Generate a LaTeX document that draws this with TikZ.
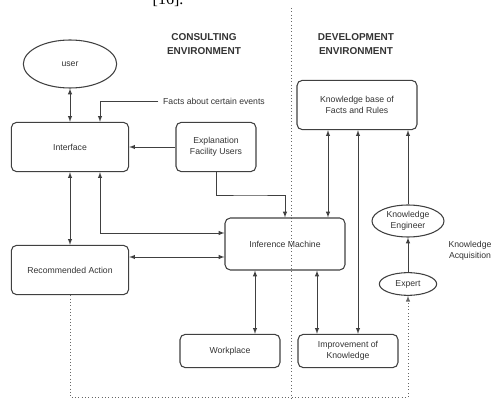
\documentclass[tikz,border=0pt]{standalone}
\usepackage{fontspec}
\setmainfont{Liberation Sans}
\newfontfamily\reffont{Liberation Serif}
\usepackage{tikz}
\usetikzlibrary{shapes.geometric}

\tikzset{
    box/.style={draw=black!75,line width=0.8pt,rounded corners=4pt,align=center,font=\fontsize{6.5}{8}\selectfont,text=black!80},
    oval/.style={draw=black!75,line width=0.8pt,ellipse,inner sep=0pt,align=center,font=\fontsize{6.5}{8}\selectfont,text=black!80},
    link/.style={draw=black!75,line width=0.5pt},
    border/.style={draw=black!60,dotted,line width=0.5pt}
}

\begin{document}
\begin{tikzpicture}[x=0.75pt,y=-0.75pt,>=latex]
    \clip (0,0) rectangle (504,399);
    \node[anchor=base,font=\reffont\fontsize{12}{14}\selectfont] (cite) at (168,5) {[16].};
    \node[align=center,font=\bfseries\fontsize{7.5}{11}\selectfont,text=black!80] (consult) at (204,44) {CONSULTING\\ENVIRONMENT};
    \node[align=center,font=\bfseries\fontsize{7.5}{11}\selectfont,text=black!80] (develop) at (356,44) {DEVELOPMENT\\ENVIRONMENT};
    \draw[border] (291,8) -- (291,399);
    \node[oval,minimum width=70pt,minimum height=36pt] (user) at (70,64) {user};
    \node[box,minimum width=88pt,minimum height=37pt] (iface) at (70,147) {Interface};
    \node[box,minimum width=60pt,minimum height=37pt] (expl) at (216,147) {Explanation\\Facility Users};
    \node[font=\fontsize{6.5}{8}\selectfont,text=black!80] (facts) at (214,101) {Facts about certain events};
    \node[box,minimum width=88pt,minimum height=37pt] (recom) at (70,270) {Recommended Action};
    \node[box,minimum width=90pt,minimum height=39pt] (infer) at (285,244) {Inference Machine};
    \node[box,minimum width=75pt,minimum height=25pt] (work) at (230,351) {Workplace};
    \node[box,minimum width=75pt,minimum height=25pt] (improv) at (348,351) {Improvement of\\Knowledge};
    \node[box,minimum width=90pt,minimum height=37pt] (kb) at (357,105) {Knowledge base of\\Facts and Rules};
    \node[oval,minimum width=54pt,minimum height=24pt] (eng) at (408,221) {Knowledge\\Engineer};
    \node[oval,minimum width=43pt,minimum height=17pt] (expert) at (408,284) {Expert};
    \node[align=center,font=\fontsize{6.5}{8}\selectfont,text=black!80] (acq) at (470,251) {Knowledge\\Acquisition};
    \draw[link,<->] (user) -- (iface);
    \draw[link,->] (facts.west) -| (100,0 |- iface.north);
    \draw[link,->] (expl.west) -- (iface.east);
    \draw[link,->] (expl.south) |- (250,195) -| (285,0 |- infer.north);
    \draw[link,<->] (iface) -- (recom);
    \draw[link,<->] (100,0 |- iface.south) |- (infer.west |- 0,233);
    \draw[link,<->] (recom.east |- 0,257) -- (infer.west |- 0,257);
    \draw[link,<->] (255,0 |- infer.south) -- (255,0 |- work.north);
    \draw[link,<->] (317,0 |- infer.south) -- (317,0 |- improv.north);
    \draw[link,<->] (328,0 |- kb.south) -- (328,0 |- infer.north);
    \draw[link,<->] (358,0 |- kb.south) -- (358,0 |- improv.north);
    \draw[link,->] (eng) -- (eng |- kb.south);
    \draw[link,->] (expert) -- (eng);
    \draw[border,->] (recom.south) |- (408,397) -- (expert.south);
\end{tikzpicture}
\end{document}
